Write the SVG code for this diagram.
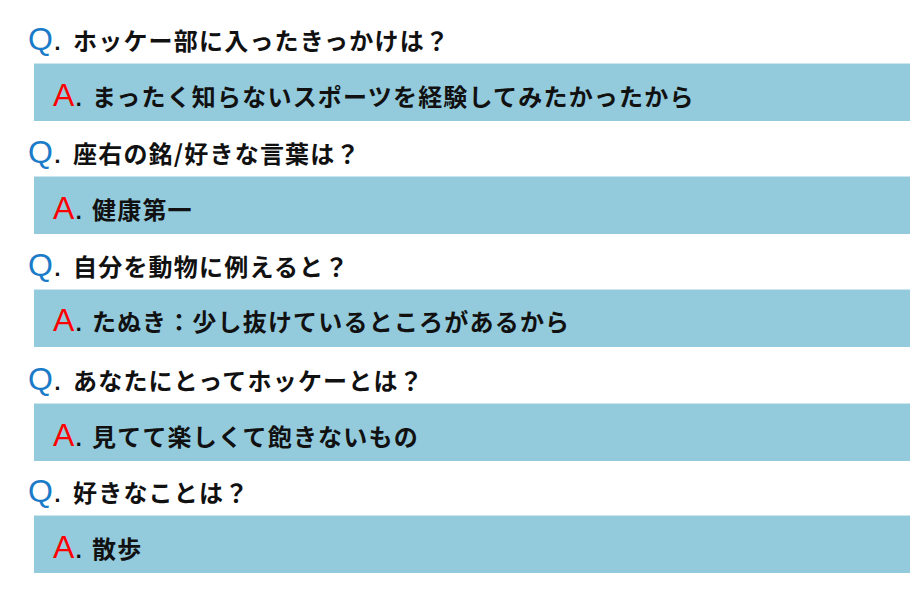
<svg xmlns="http://www.w3.org/2000/svg" width="910" height="593" viewBox="0 0 910 593">
<style>
.box{fill:#93cbdd}
.edge{stroke:#cbe6ef;stroke-width:1}
.q{font-family:"Liberation Sans",Arial,sans-serif;font-size:32px;fill:#1a7bc8}
.a{font-family:"Liberation Sans",Arial,sans-serif;font-size:32px;fill:#ff0000}
.dot{fill:#111111}
.t{font-family:"Noto Sans CJK JP","Noto Sans CJK SC",sans-serif;font-size:24px;font-weight:bold;fill:#111111;letter-spacing:1.2px}
</style>
<rect width="910" height="593" fill="#ffffff"/>
<g id="qa1">
<text class="q" x="28" y="50">Q<tspan class="dot">.</tspan></text>
<text class="t" x="73" y="50">ホッケー部に入ったきっかけは？</text>
<rect class="box" x="34" y="63" width="876" height="58"/>
<line class="edge" x1="34" y1="63.5" x2="910" y2="63.5"/>
<text class="a" x="53" y="106">A<tspan class="dot">.</tspan></text>
<text class="t" x="92" y="106">まったく知らないスポーツを経験してみたかったから</text>
</g>
<g id="qa2">
<text class="q" x="28" y="163">Q<tspan class="dot">.</tspan></text>
<text class="t" x="73" y="163">座右の銘/好きな言葉は？</text>
<rect class="box" x="34" y="176" width="876" height="58"/>
<line class="edge" x1="34" y1="176.5" x2="910" y2="176.5"/>
<text class="a" x="53" y="219">A<tspan class="dot">.</tspan></text>
<text class="t" x="92" y="219">健康第一</text>
</g>
<g id="qa3">
<text class="q" x="28" y="276">Q<tspan class="dot">.</tspan></text>
<text class="t" x="73" y="276">自分を動物に例えると？</text>
<rect class="box" x="34" y="289" width="876" height="58"/>
<line class="edge" x1="34" y1="289.5" x2="910" y2="289.5"/>
<text class="a" x="53" y="331">A<tspan class="dot">.</tspan></text>
<text class="t" x="92" y="331">たぬき：少し抜けているところがあるから</text>
</g>
<g id="qa4">
<text class="q" x="28" y="390">Q<tspan class="dot">.</tspan></text>
<text class="t" x="73" y="390">あなたにとってホッケーとは？</text>
<rect class="box" x="34" y="403" width="876" height="58"/>
<line class="edge" x1="34" y1="403.5" x2="910" y2="403.5"/>
<text class="a" x="53" y="446">A<tspan class="dot">.</tspan></text>
<text class="t" x="92" y="446">見てて楽しくて飽きないもの</text>
</g>
<g id="qa5">
<text class="q" x="28" y="502">Q<tspan class="dot">.</tspan></text>
<text class="t" x="73" y="502">好きなことは？</text>
<rect class="box" x="34" y="515" width="876" height="58"/>
<line class="edge" x1="34" y1="515.5" x2="910" y2="515.5"/>
<text class="a" x="53" y="558">A<tspan class="dot">.</tspan></text>
<text class="t" x="92" y="558">散歩</text>
</g>
<g id="connectors"></g>
</svg>
